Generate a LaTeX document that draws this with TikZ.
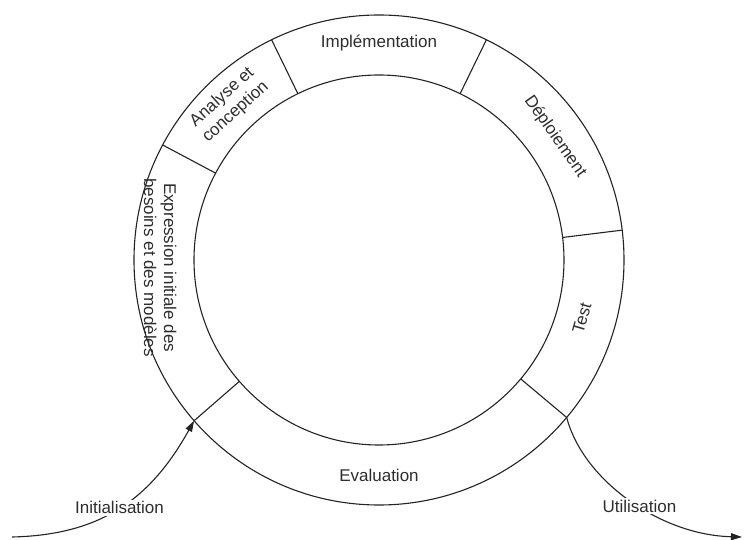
\documentclass[tikz,border=0pt]{standalone}
\usepackage{fontspec}
\setmainfont{Liberation Sans}
\usetikzlibrary{arrows.meta}
\definecolor{ink}{RGB}{35,35,35}
\definecolor{txt}{RGB}{45,45,45}
\tikzset{
  ring/.style={draw=ink, line width=1.1pt},
  sep/.style={draw=ink, line width=1.1pt},
  % libelle d'une phase dans l'anneau
  phase/.style={font=\fontsize{17}{20}\selectfont, text=txt, align=center, inner sep=1pt},
  % libelle sur une fleche (masque la courbe)
  lbl/.style={font=\fontsize{17}{20}\selectfont, text=txt, fill=white, inner sep=2pt},
  ar/.style={-{Triangle[length=11pt,width=7pt]}, draw=ink, line width=1.1pt}
}
\begin{document}
\begin{tikzpicture}[x=1pt, y=1pt]
  \useasboundingbox (-379,-280) rectangle (365,260);
  % anneau
  \draw[ring] (0,0) circle[radius=245pt];
  \draw[ring] (0,0) circle[radius=185pt];
  % separations entre les phases
  \foreach \a/\n in {116/s1, 64/s2, 7/s3, -40/s4, -139/s5, 152/s6} {
    \coordinate (\n-in) at (\a:185);
    \coordinate (\n-out) at (\a:245);
    \draw[sep] (\n-in) -- (\n-out);
  }
  % phases
  \node[phase] (impl) at (90:217) {Implémentation};
  \node[phase, rotate=42] (ana) at (134:216) {Analyse et\\conception};
  \node[phase, rotate=-55] (dep) at (35:215) {Déploiement};
  \node[phase, rotate=74] (test) at (-16:211) {Test};
  \node[phase] (eval) at (-90:215) {Evaluation};
  \node[phase, rotate=-90] (expr) at (182:219) {Expression initiale des\\besoins et des modèles};
  % entree et sortie du cycle
  \coordinate (start) at (-367,-277);
  \coordinate (stop) at (363,-277);
  \draw[ar] (start) .. controls (-279,-275) and (-229,-240) .. node[lbl, pos=0.5] (init) {Initialisation} (s5-out);
  \draw[ar] (s4-out) .. controls (204,-220) and (281,-275) .. node[lbl, pos=0.55] (util) {Utilisation} (stop);
\end{tikzpicture}
\end{document}
